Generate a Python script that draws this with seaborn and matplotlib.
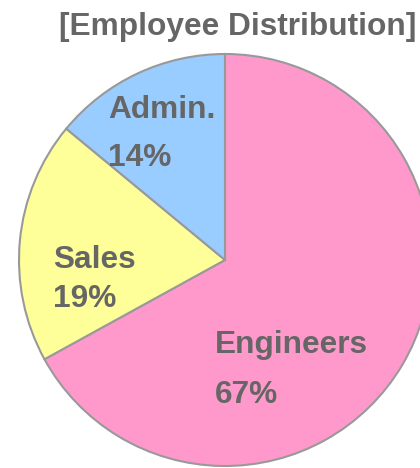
import matplotlib
matplotlib.use("Agg")
import matplotlib.pyplot as plt
import seaborn as sns

# data
categories = ["Engineers", "Sales", "Admin."]
shares = [67, 19, 14]
slice_colors = ["#FF99CC", "#FFFF99", "#99CCFF"]

sns.set_theme(style="white")
plt.rcParams['font.family'] = ['Liberation Sans', 'DejaVu Sans']

text_color = "#666666"

fig = plt.figure(figsize=(4.2, 4.68), dpi=100)
# pie centre ~ (225, 260) px, radius ~206 px
ax = fig.add_axes([19 / 420, 2 / 468, 412 / 420, 412 / 468])

ax.pie(shares, colors=slice_colors, startangle=90, counterclock=False,
       wedgeprops=dict(edgecolor="#999999", linewidth=1.5))
ax.set_xlim(-1.0, 1.0)
ax.set_ylim(-1.0, 1.0)
ax.set_aspect("equal")
ax.axis("off")

# label anchors (left, baseline of name line, baseline of percent line)
label_pos = {
    "Engineers": (-0.049, -0.451, -0.694),
    "Sales": (-0.835, -0.039, -0.228),
    "Admin.": (-0.568, 0.689, 0.456),
}
for name, val in zip(categories, shares):
    x, y1, y2 = label_pos[name]
    ax.text(x, y1, name, ha="left", va="baseline", fontsize=22.8,
            fontweight="bold", color=text_color)
    ax.text(x, y2, f"{val}%", ha="left", va="baseline", fontsize=22.8,
            fontweight="bold", color=text_color)

fig.text(237.5 / 420, 1 - 35 / 468, "[Employee Distribution]", ha="center",
         va="baseline", fontsize=22.8, fontweight="bold", color=text_color)

fig.savefig("out.png", dpi=100)
